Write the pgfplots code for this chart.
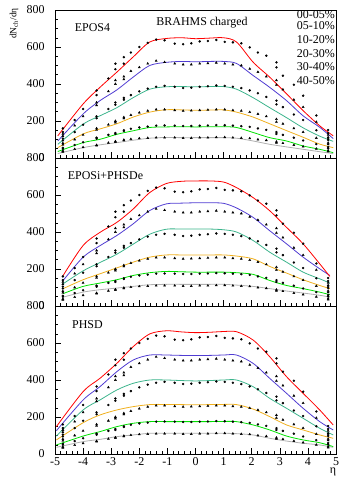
\documentclass[border=0pt]{standalone}
\usepackage{fontspec}
\setmainfont{Liberation Serif}
\usepackage{pgfplots}
\usepackage{pgfplotstable}
\pgfplotsset{compat=1.18}
\definecolor{cR}{RGB}{255,0,0}
\definecolor{cB}{RGB}{80,60,210}
\definecolor{cT}{RGB}{60,180,140}
\definecolor{cO}{RGB}{240,176,30}
\definecolor{cG}{RGB}{0,225,0}
\definecolor{cK}{RGB}{175,175,175}

% BRAHMS charged dN/deta data (six centralities)
\pgfplotstableread{
eta c0 c1 c2 c3 c4 c5
-4.72 160 130 105 80 55 38
-4.72 140 118 95 72 50 34
-4.30 205 175 140 100 70 48
-4.00 265 225 180 125 85 58
-3.52 365 300 225 160 110 70
-3.52 340 285 215 152 104 67
-3.10 430 360 265 180 125 82
-2.85 510 420 300 200 135 90
-2.85 480 400 288 192 130 86
-2.55 545 440 325 220 150 98
-2.55 510 425 315 214 146 95
-2.30 570 470 340 232 158 102
-2.00 600 490 360 245 165 106
-1.70 622 510 375 255 170 108
-1.40 640 525 385 262 175 110
-1.10 636 518 390 262 176 110
-0.74 618 510 385 258 175 110
-0.44 615 505 378 255 173 108
-0.15 620 505 380 256 173 108
0.15 630 510 385 258 175 110
0.44 632 512 388 260 176 110
0.74 638 515 392 262 178 112
1.04 628 510 390 262 177 112
1.33 625 505 385 258 175 110
1.63 620 500 378 255 172 108
1.93 598 482 365 248 168 106
2.22 570 465 350 238 160 100
2.52 553 440 330 225 152 96
2.88 517 420 310 210 140 88
2.88 490 395 290 195 130 82
3.11 445 370 275 185 125 80
3.50 396 315 235 160 110 70
3.83 337 275 205 140 95 62
4.30 230 195 150 108 75 50
4.72 151 125 108 82 60 40
4.72 135 112 98 74 52 35
}\data

% EPOS4 curves
\pgfplotstableread{
eta r b t o g k
-4.90 120 92 74 56 35 24
-4.00 292 238 183 130 83 56
-3.40 382 310 228 157 101 71
-2.80 464 368 272 185 128 83
-2.22 546 437 326 221 147 96
-1.63 627 500 372 248 165 107
-1.04 646 517 385 261 168 111
-0.50 650 522 386 260 169 110
0.00 645 520 385 258 168 110
0.50 648 522 386 259 169 110
1.00 650 522 386 260 169 110
1.46 627 511 372 248 165 107
2.05 518 446 326 221 138 92
2.64 437 382 272 185 110 74
3.24 347 310 218 148 92 60
3.83 256 228 163 112 65 47
4.42 174 166 118 75 47 34
4.90 120 105 90 56 29 24
}\topc

% EPOSi+PHSDe curves
\pgfplotstableread{
eta r b t o g k
-4.71 165 138 120 94 67 48
-4.00 327 264 190 142 106 75
-3.40 398 326 235 174 124 88
-2.80 452 381 280 206 142 97
-2.22 524 444 334 237 165 106
-1.63 613 516 388 264 180 115
-1.04 662 552 415 276 187 117
-0.50 674 556 416 276 185 117
0.00 676 558 416 276 183 117
0.50 676 558 416 276 183 117
1.00 670 555 412 276 183 117
1.46 640 530 400 270 180 113
2.05 586 479 354 255 171 106
2.64 515 407 291 214 138 94
3.24 425 336 237 178 111 81
3.83 336 264 183 142 94 70
4.42 228 201 147 111 75 58
4.78 160 165 124 94 61 48
}\midc

% PHSD curves
\pgfplotstableread{
eta r b t o g k
-4.95 148 126 97 76 49 36
-4.00 337 292 238 169 97 67
-3.40 409 364 292 211 121 79
-2.80 490 445 346 238 148 94
-2.22 580 508 382 256 166 103
-1.63 649 535 400 267 175 112
-1.04 666 535 400 268 175 112
-0.50 660 533 397 267 175 112
0.00 656 532 395 266 175 112
0.50 658 533 397 267 175 112
1.00 662 535 400 268 176 112
1.46 661 535 400 267 175 110
2.05 616 490 364 243 157 103
2.64 526 409 301 202 130 85
3.24 418 328 247 157 97 70
3.83 328 247 193 130 76 58
4.42 238 175 139 103 61 49
4.90 157 130 103 85 40 36
}\botc

\pgfplotsset{
  panel/.style={
    scale only axis, width=281bp, height=148bp,
    xmin=-5, xmax=5, ymin=0, ymax=800,
    xtick={-5,-4,...,5}, minor x tick num=4,
    ytick={0,200,400,600,800}, yticklabels={0,200,400,600,800},
    minor y tick num=3,
    tick align=inside, tick pos=left,
    major tick length=6bp, minor tick length=3bp,
    tick style={black, line width=0.5bp},
    axis line style={black, line width=0.6bp},
    yticklabel style={font=\fontsize{12}{14}\selectfont, xshift=-7bp},
    xticklabel style={font=\fontsize{12}{14}\selectfont},
    anchor=south west,
  },
  crv/.style={line width=0.8bp, smooth, tension=0.5},
  dc/.style={only marks, black, mark=*, mark size=1.0bp},
  dt/.style={only marks, black, mark=triangle*, mark size=1.2bp},
}

\newcommand{\allseries}[1]{%
  \addplot[crv, cK] table[x=eta,y=k]{#1};
  \addplot[crv, cG] table[x=eta,y=g]{#1};
  \addplot[crv, cO] table[x=eta,y=o]{#1};
  \addplot[crv, cT] table[x=eta,y=t]{#1};
  \addplot[crv, cB] table[x=eta,y=b]{#1};
  \addplot[crv, cR] table[x=eta,y=r]{#1};
  \addplot[dc] table[x=eta,y=c0]{\data};
  \addplot[dt] table[x=eta,y=c1]{\data};
  \addplot[dc] table[x=eta,y=c2]{\data};
  \addplot[dt] table[x=eta,y=c3]{\data};
  \addplot[dc] table[x=eta,y=c4]{\data};
  \addplot[dt] table[x=eta,y=c5]{\data};
}

\begin{document}
\begin{tikzpicture}
\useasboundingbox (0,0) rectangle (339bp,478bp);

\begin{axis}[panel, at={(55bp,320bp)}, xticklabels={}]
\allseries{\topc}
\end{axis}

\begin{axis}[panel, at={(55bp,172bp)}, xticklabels={}]
\allseries{\midc}
\end{axis}

\begin{axis}[panel, at={(55bp,24bp)}, xticklabels={-5,-4,-3,-2,-1,0,1,2,3,4,5}]
\allseries{\botc}
\end{axis}

\begin{scope}[every node/.style={font=\fontsize{12}{14}\selectfont, inner sep=0pt}]
\node at (92.5bp,450bp) {EPOS4};
\node at (202bp,455bp) {BRAHMS charged};
\node[anchor=east] at (335bp,463.5bp) {00-05\%};
\node[anchor=east] at (335bp,452.5bp) {05-10\%};
\node[anchor=east] at (335bp,438bp) {10-20\%};
\node[anchor=east] at (335bp,424.5bp) {20-30\%};
\node[anchor=east] at (335bp,411bp) {30-40\%};
\node[anchor=east] at (335bp,397.5bp) {40-50\%};
\node at (105.5bp,302bp) {EPOSi+PHSDe};
\node at (87.5bp,153bp) {PHSD};
\node at (333bp,6bp) {η};
\end{scope}
\node[rotate=90, anchor=east, inner sep=0pt, font=\fontsize{9.5}{11}\selectfont] at (14bp,470bp) {dN\textsubscript{ch}/dη};
\end{tikzpicture}
\end{document}
